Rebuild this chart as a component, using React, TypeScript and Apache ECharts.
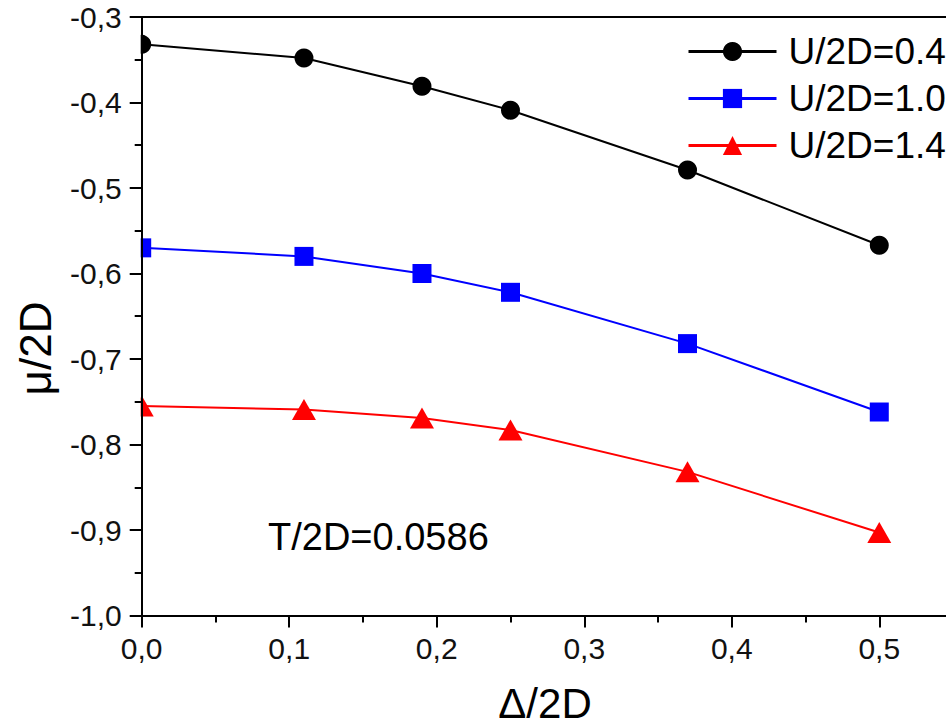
import React, { useEffect, useRef } from "react";
import * as echarts from "echarts";

const deltaValues = [0, 0.11, 0.19, 0.25, 0.37, 0.5];
const muU04 = [-0.332, -0.348, -0.381, -0.409, -0.479, -0.567];
const muU10 = [-0.570, -0.580, -0.600, -0.622, -0.682, -0.762];
const muU14 = [-0.755, -0.759, -0.769, -0.783, -0.832, -0.903];
const seriesNames = ["U/2D=0.4", "U/2D=1.0", "U/2D=1.4"];
const seriesColors = ["#000000", "#0000ff", "#ff0000"];
const seriesSymbols = ["circle", "rect", "triangle"];
const annotationText = "T/2D=0.0586";
const xAxisName = "Δ/2D";
const yAxisName = "μ/2D";

const FONT = "Liberation Sans, Arial, Helvetica, sans-serif";
const fmt = (v: number) => v.toFixed(1).replace(".", ",");

export default function App() {
  const ref = useRef<HTMLDivElement>(null);
  useEffect(() => {
    if (!ref.current) return;
    const chart = echarts.init(ref.current, undefined, { renderer: "svg" });
    const allSeries = [muU04, muU10, muU14];
    const gridLeft = 141.7;
    chart.setOption({
      animation: false,
      backgroundColor: "#ffffff",
      grid: { left: gridLeft, top: 17, right: 3.2, bottom: 109.5, containLabel: false },
      xAxis: [
        {
          type: "value",
          min: 0,
          max: 0.6,
          interval: 0.1,
          z: 10,
          axisLine: { show: true, onZero: false, lineStyle: { color: "#000", width: 2 } },
          axisTick: { show: true, length: 12, lineStyle: { color: "#000", width: 2 } },
          minorTick: { show: true, splitNumber: 2, length: 7, lineStyle: { color: "#000", width: 2 } },
          splitLine: { show: false },
          axisLabel: {
            show: true,
            margin: 18,
            fontSize: 30,
            color: "#111",
            showMaxLabel: false,
            formatter: (v: number) => fmt(v),
          },
        },
        {
          type: "value",
          position: "top",
          min: 0,
          max: 0.6,
          z: 10,
          axisLine: { show: true, onZero: false, lineStyle: { color: "#000", width: 2 } },
          axisTick: { show: false },
          axisLabel: { show: false },
          splitLine: { show: false },
        },
      ],
      yAxis: {
        type: "value",
        min: -1.0,
        max: -0.3,
        interval: 0.1,
        z: 10,
        axisLine: { show: true, onZero: false, lineStyle: { color: "#000", width: 2 } },
        axisTick: { show: true, length: 12, lineStyle: { color: "#000", width: 2 } },
        minorTick: { show: true, splitNumber: 2, length: 7, lineStyle: { color: "#000", width: 2 } },
        splitLine: { show: false },
        axisLabel: {
          show: true,
          margin: 20,
          fontSize: 30,
          color: "#111",
          formatter: (v: number) => fmt(v),
        },
      },
      legend: {
        orient: "vertical",
        left: 687,
        top: 33,
        padding: 0,
        itemWidth: 88,
        itemHeight: 24,
        itemGap: 10,
        align: "left",
        lineStyle: { width: 3 },
        textStyle: { fontSize: 37, lineHeight: 37, color: "#000", fontFamily: FONT, padding: [0, 0, 0, 7] },
        data: seriesNames,
      },
      series: seriesNames.map((name, i) => ({
        name,
        type: "line",
        xAxisIndex: 0,
        symbol: seriesSymbols[i],
        symbolSize: i === 2 ? [24, 21] : 19,
        showAllSymbol: true,
        clip: false,
        z: 2,
        lineStyle: { color: seriesColors[i], width: 2 },
        itemStyle: { color: seriesColors[i] },
        data: deltaValues.map((x, j) => [x, allSeries[i][j]]),
      })),
      graphic: [
        {
          type: "rect",
          silent: true,
          z: 5,
          shape: { x: 0, y: 0, width: gridLeft - 1, height: 600 },
          style: { fill: "#ffffff" },
        },
        {
          type: "text",
          z: 20,
          x: 268,
          y: 536.5,
          style: {
            text: annotationText,
            fontSize: 38,
            fontFamily: FONT,
            fill: "#000",
            align: "left",
            verticalAlign: "middle",
          },
        },
        {
          type: "text",
          z: 20,
          x: 545,
          y: 703,
          style: {
            text: xAxisName,
            fontSize: 42,
            fontFamily: FONT,
            fill: "#000",
            align: "center",
            verticalAlign: "middle",
          },
        },
        {
          type: "text",
          z: 20,
          x: 35,
          y: 348.5,
          rotation: Math.PI / 2,
          style: {
            text: yAxisName,
            fontSize: 44,
            fontFamily: FONT,
            fill: "#000",
            align: "center",
            verticalAlign: "middle",
          },
        },
      ],
    });
    return () => chart.dispose();
  }, []);
  return (
    <div
      style={{
        position: "absolute",
        left: 0,
        top: 0,
        width: 946,
        height: 725,
        overflow: "hidden",
        background: "#fff",
      }}
    >
      <div ref={ref} style={{ width: 1030, height: 725 }} />
    </div>
  );
}
